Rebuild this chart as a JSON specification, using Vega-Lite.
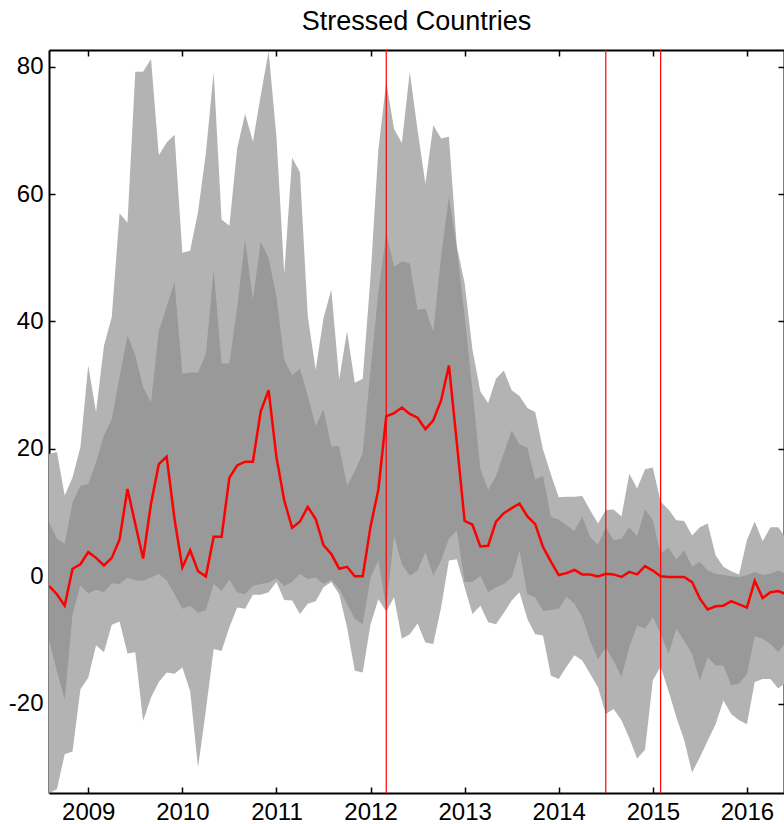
{
  "$schema": "https://vega.github.io/schema/vega-lite/v6.json",
  "width": 735,
  "height": 743,
  "autosize": {"type": "none"},
  "padding": {"left": 49, "top": 50, "right": 0, "bottom": 31},
  "background": "white",
  "title": {"text": "Stressed Countries", "font": "Liberation Sans", "fontSize": 27, "fontWeight": "normal", "color": "black", "offset": 13, "anchor": "middle"},
  "config": {
    "view": {"stroke": null},
    "axis": {"domainColor": "black", "domainWidth": 2, "tickColor": "black", "tickWidth": 1.5, "tickSize": -6, "labelFont": "Liberation Sans", "labelFontSize": 24, "labelColor": "black", "grid": false, "title": null, "labelFlush": false, "labelOverlap": false, "labelExpr": "'' + datum.value"}
  },
  "resolve": {"axis": {"x": "independent", "y": "independent"}},
  "datasets": {
    "bands": [
      {"t": 2008.583, "lo90": -34, "lo75": -10, "med": -1.5, "hi75": 8.5, "hi90": 19.2},
      {"t": 2008.667, "lo90": -33.4, "lo75": -14.8, "med": -2.8, "hi75": 5.9, "hi90": 19.5},
      {"t": 2008.75, "lo90": -27.9, "lo75": -19.4, "med": -4.6, "hi75": 5.1, "hi90": 12.7},
      {"t": 2008.833, "lo90": -27.5, "lo75": -6, "med": 1.2, "hi75": 11.6, "hi90": 15.5},
      {"t": 2008.917, "lo90": -17.7, "lo75": -1.4, "med": 1.9, "hi75": 14.2, "hi90": 20.3},
      {"t": 2009.0, "lo90": -15.9, "lo75": -2.7, "med": 3.8, "hi75": 14.5, "hi90": 33.1},
      {"t": 2009.083, "lo90": -10.8, "lo75": -2.1, "med": 2.9, "hi75": 17.9, "hi90": 25.8},
      {"t": 2009.167, "lo90": -11.9, "lo75": -2.5, "med": 1.7, "hi75": 22.1, "hi90": 36.2},
      {"t": 2009.25, "lo90": -7.6, "lo75": -1.1, "med": 2.9, "hi75": 24.7, "hi90": 40.7},
      {"t": 2009.333, "lo90": -7.1, "lo75": -1.2, "med": 5.8, "hi75": 31.3, "hi90": 57.0},
      {"t": 2009.417, "lo90": -12.1, "lo75": -0.2, "med": 13.7, "hi75": 37.8, "hi90": 55.5},
      {"t": 2009.5, "lo90": -11.9, "lo75": -0.6, "med": 8.2, "hi75": 34.7, "hi90": 79.2},
      {"t": 2009.583, "lo90": -22.7, "lo75": -0.7, "med": 2.8, "hi75": 29.7, "hi90": 79.2},
      {"t": 2009.667, "lo90": -19.0, "lo75": -0.2, "med": 11.4, "hi75": 27.3, "hi90": 81.2},
      {"t": 2009.75, "lo90": -16.6, "lo75": 0.4, "med": 17.6, "hi75": 38.5, "hi90": 66.1},
      {"t": 2009.833, "lo90": -15.1, "lo75": -0.6, "med": 18.8, "hi75": 42.3, "hi90": 68.1},
      {"t": 2009.917, "lo90": -15.3, "lo75": -2.8, "med": 9.0, "hi75": 46.2, "hi90": 69.3},
      {"t": 2010.0, "lo90": -14.3, "lo75": -5.1, "med": 1.4, "hi75": 31.8, "hi90": 50.8},
      {"t": 2010.083, "lo90": -18.0, "lo75": -4.6, "med": 4.1, "hi75": 32.0, "hi90": 51.1},
      {"t": 2010.167, "lo90": -30.0, "lo75": -5.7, "med": 0.8, "hi75": 32.0, "hi90": 57.2},
      {"t": 2010.25, "lo90": -21.0, "lo75": -5.3, "med": 0.0, "hi75": 34.9, "hi90": 66.4},
      {"t": 2010.333, "lo90": -11.4, "lo75": -1.2, "med": 6.2, "hi75": 48.1, "hi90": 79.2},
      {"t": 2010.417, "lo90": -11.7, "lo75": -2.3, "med": 6.2, "hi75": 33.4, "hi90": 56.0},
      {"t": 2010.5, "lo90": -8.0, "lo75": -0.5, "med": 15.5, "hi75": 33.4, "hi90": 55.0},
      {"t": 2010.583, "lo90": -4.9, "lo75": -2.5, "med": 17.4, "hi75": 42.3, "hi90": 67.2},
      {"t": 2010.667, "lo90": -5.1, "lo75": -2.8, "med": 18.0, "hi75": 52.8, "hi90": 72.6},
      {"t": 2010.75, "lo90": -2.9, "lo75": -1.5, "med": 18.0, "hi75": 43.4, "hi90": 68.2},
      {"t": 2010.833, "lo90": -2.9, "lo75": -1.2, "med": 25.9, "hi75": 52.5, "hi90": 75.5},
      {"t": 2010.917, "lo90": -2.5, "lo75": -1.0, "med": 29.2, "hi75": 49.9, "hi90": 82.4},
      {"t": 2011.0, "lo90": -0.9, "lo75": -0.3, "med": 18.7, "hi75": 43.9, "hi90": 69.0},
      {"t": 2011.083, "lo90": -3.7, "lo75": -1.5, "med": 11.9, "hi75": 34.0, "hi90": 47.5},
      {"t": 2011.167, "lo90": -3.8, "lo75": -0.9, "med": 7.6, "hi75": 31.5, "hi90": 65.7},
      {"t": 2011.25, "lo90": -5.9, "lo75": 0.4, "med": 8.6, "hi75": 32.6, "hi90": 63.4},
      {"t": 2011.333, "lo90": -4.3, "lo75": -0.4, "med": 10.9, "hi75": 28.3, "hi90": 40.8},
      {"t": 2011.417, "lo90": -3.9, "lo75": -0.2, "med": 9.0, "hi75": 23.6, "hi90": 32.4},
      {"t": 2011.5, "lo90": -1.7, "lo75": -1.2, "med": 4.9, "hi75": 26.2, "hi90": 40.5},
      {"t": 2011.583, "lo90": -0.9, "lo75": -0.5, "med": 3.5, "hi75": 20.4, "hi90": 45.0},
      {"t": 2011.667, "lo90": -2.8, "lo75": -2.0, "med": 1.2, "hi75": 20.4, "hi90": 30.9},
      {"t": 2011.75, "lo90": -8.0, "lo75": -4.3, "med": 1.5, "hi75": 14.2, "hi90": 38.5},
      {"t": 2011.833, "lo90": -14.8, "lo75": -6.7, "med": 0.0, "hi75": 16.5, "hi90": 30.4},
      {"t": 2011.917, "lo90": -15.1, "lo75": -7.5, "med": 0.0, "hi75": 19.4, "hi90": 31.0},
      {"t": 2012.0, "lo90": -7.5, "lo75": -0.2, "med": 7.8, "hi75": 32.4, "hi90": 47.0},
      {"t": 2012.083, "lo90": -3.6, "lo75": 2.5, "med": 13.6, "hi75": 44.5, "hi90": 66.9},
      {"t": 2012.167, "lo90": -5.5, "lo75": -5.0, "med": 25.1, "hi75": 53.8, "hi90": 77.6},
      {"t": 2012.25, "lo90": -3.3, "lo75": 6.4, "med": 25.6, "hi75": 48.6, "hi90": 70.2},
      {"t": 2012.333, "lo90": -9.8, "lo75": 1.9, "med": 26.5, "hi75": 49.4, "hi90": 68.0},
      {"t": 2012.417, "lo90": -9.1, "lo75": 0.1, "med": 25.5, "hi75": 49.1, "hi90": 79.2},
      {"t": 2012.5, "lo90": -7.4, "lo75": 0.9, "med": 24.9, "hi75": 41.8, "hi90": 70.0},
      {"t": 2012.583, "lo90": -10.4, "lo75": 3.8, "med": 23.1, "hi75": 42.0, "hi90": 61.6},
      {"t": 2012.667, "lo90": -10.6, "lo75": 0.1, "med": 24.5, "hi75": 38.4, "hi90": 70.8},
      {"t": 2012.75, "lo90": -4.9, "lo75": 2.5, "med": 27.6, "hi75": 50.2, "hi90": 68.7},
      {"t": 2012.833, "lo90": 2.5, "lo75": 5.9, "med": 33.1, "hi75": 59.6, "hi90": 69.0},
      {"t": 2012.917, "lo90": 2.7, "lo75": 7.2, "med": 21.0, "hi75": 51.5, "hi90": 51.8},
      {"t": 2013.0, "lo90": -1.7, "lo75": -0.9, "med": 8.7, "hi75": 40.8, "hi90": 46.0},
      {"t": 2013.083, "lo90": -5.9, "lo75": -0.9, "med": 8.1, "hi75": 29.3, "hi90": 35.6},
      {"t": 2013.167, "lo90": -4.6, "lo75": 0.1, "med": 4.7, "hi75": 16.8, "hi90": 29.0},
      {"t": 2013.25, "lo90": -7.2, "lo75": -2.5, "med": 4.8, "hi75": 13.6, "hi90": 27.2},
      {"t": 2013.333, "lo90": -7.5, "lo75": -1.7, "med": 8.6, "hi75": 15.7, "hi90": 31.0},
      {"t": 2013.417, "lo90": -5.7, "lo75": -1.2, "med": 9.9, "hi75": 19.4, "hi90": 32.3},
      {"t": 2013.5, "lo90": -3.8, "lo75": -0.2, "med": 10.7, "hi75": 22.9, "hi90": 29.2},
      {"t": 2013.583, "lo90": -2.5, "lo75": 4.0, "med": 11.4, "hi75": 20.7, "hi90": 28.3},
      {"t": 2013.667, "lo90": -6.7, "lo75": -2.8, "med": 9.4, "hi75": 20.2, "hi90": 26.4},
      {"t": 2013.75, "lo90": -9.1, "lo75": -3.3, "med": 8.2, "hi75": 15.2, "hi90": 25.8},
      {"t": 2013.833, "lo90": -9.3, "lo75": -5.4, "med": 4.6, "hi75": 15.8, "hi90": 19.9},
      {"t": 2013.917, "lo90": -15.6, "lo75": -5.3, "med": 2.3, "hi75": 9.3, "hi90": 16.0},
      {"t": 2014.0, "lo90": -16.1, "lo75": -5.1, "med": 0.2, "hi75": 8.9, "hi90": 12.4},
      {"t": 2014.083, "lo90": -14.2, "lo75": -3.2, "med": 0.5, "hi75": 8.0, "hi90": 12.5},
      {"t": 2014.167, "lo90": -12.4, "lo75": -4.3, "med": 1.0, "hi75": 7.1, "hi90": 12.5},
      {"t": 2014.25, "lo90": -13.2, "lo75": -6.4, "med": 0.3, "hi75": 9.4, "hi90": 12.6},
      {"t": 2014.333, "lo90": -15.3, "lo75": -10.1, "med": 0.3, "hi75": 6.2, "hi90": 10.4},
      {"t": 2014.417, "lo90": -17.4, "lo75": -13.0, "med": 0.0, "hi75": 4.9, "hi90": 8.3},
      {"t": 2014.5, "lo90": -21.6, "lo75": -11.2, "med": 0.4, "hi75": 7.7, "hi90": 10.4},
      {"t": 2014.583, "lo90": -20.8, "lo75": -13.3, "med": 0.3, "hi75": 5.7, "hi90": 10.5},
      {"t": 2014.667, "lo90": -22.6, "lo75": -15.8, "med": -0.1, "hi75": 5.9, "hi90": 9.4},
      {"t": 2014.75, "lo90": -25.4, "lo75": -11.1, "med": 0.7, "hi75": 7.7, "hi90": 16.1},
      {"t": 2014.833, "lo90": -28.6, "lo75": -7.7, "med": 0.3, "hi75": 6.3, "hi90": 13.8},
      {"t": 2014.917, "lo90": -27.2, "lo75": -8.2, "med": 1.6, "hi75": 10.5, "hi90": 16.8},
      {"t": 2015.0, "lo90": -16.3, "lo75": -6.4, "med": 0.9, "hi75": 8.8, "hi90": 17.1},
      {"t": 2015.083, "lo90": -14.2, "lo75": -9.0, "med": 0.0, "hi75": 3.6, "hi90": 11.7},
      {"t": 2015.167, "lo90": -18.0, "lo75": -12.2, "med": -0.1, "hi75": 4.5, "hi90": 10.5},
      {"t": 2015.25, "lo90": -22.1, "lo75": -8.2, "med": -0.1, "hi75": 2.6, "hi90": 8.8},
      {"t": 2015.333, "lo90": -25.7, "lo75": -10.1, "med": -0.1, "hi75": 4.1, "hi90": 8.7},
      {"t": 2015.417, "lo90": -30.8, "lo75": -12.2, "med": -0.9, "hi75": 1.5, "hi90": 6.4},
      {"t": 2015.5, "lo90": -28.4, "lo75": -16.4, "med": -3.5, "hi75": 2.3, "hi90": 7.7},
      {"t": 2015.583, "lo90": -25.8, "lo75": -12.7, "med": -5.2, "hi75": 0.9, "hi90": 8.3},
      {"t": 2015.667, "lo90": -23.2, "lo75": -14.0, "med": -4.7, "hi75": 0.4, "hi90": 3.3},
      {"t": 2015.75, "lo90": -19.5, "lo75": -14.0, "med": -4.6, "hi75": 0.2, "hi90": 1.5},
      {"t": 2015.833, "lo90": -21.6, "lo75": -17.1, "med": -3.9, "hi75": 0.0, "hi90": 0.8},
      {"t": 2015.917, "lo90": -22.6, "lo75": -16.8, "med": -4.4, "hi75": -0.1, "hi90": 0.3},
      {"t": 2016.0, "lo90": -23.2, "lo75": -15.3, "med": -4.9, "hi75": 0.2, "hi90": 5.7},
      {"t": 2016.083, "lo90": -16.6, "lo75": -9.4, "med": -0.7, "hi75": 0.7, "hi90": 8.6},
      {"t": 2016.167, "lo90": -16.1, "lo75": -9.8, "med": -3.4, "hi75": 0.2, "hi90": 5.5},
      {"t": 2016.25, "lo90": -16.1, "lo75": -10.6, "med": -2.5, "hi75": 0.4, "hi90": 7.7},
      {"t": 2016.333, "lo90": -17.6, "lo75": -11.9, "med": -2.3, "hi75": 0.9, "hi90": 7.7},
      {"t": 2016.417, "lo90": -16.6, "lo75": -10.3, "med": -2.8, "hi75": 0.4, "hi90": 5.9}
    ],
    "events": [
      {"e": 2012.167},
      {"e": 2014.5},
      {"e": 2015.083}
    ]
  },
  "layer": [
    {
      "data": {"name": "bands"},
      "mark": {"type": "area", "color": "#b3b3b3", "clip": true},
      "encoding": {
        "x": {"field": "t", "type": "quantitative", "scale": {"domain": [2008.583, 2016.394], "nice": false, "zero": false},
              "axis": {"orient": "bottom", "values": [2009, 2010, 2011, 2012, 2013, 2014, 2015, 2016], "labelPadding": 13}},
        "y": {"field": "lo90", "type": "quantitative", "scale": {"domain": [-34, 82.6], "nice": false, "zero": false},
              "axis": {"orient": "left", "values": [-20, 0, 20, 40, 60, 80], "labelPadding": 12}},
        "y2": {"field": "hi90"}
      }
    },
    {
      "data": {"name": "bands"},
      "mark": {"type": "area", "color": "#999999", "clip": true},
      "encoding": {
        "x": {"field": "t", "type": "quantitative", "axis": {"orient": "top", "values": [2009, 2010, 2011, 2012, 2013, 2014, 2015, 2016], "labels": false}},
        "y": {"field": "lo75", "type": "quantitative", "axis": {"orient": "right", "values": [-20, 0, 20, 40, 60, 80], "labels": false}},
        "y2": {"field": "hi75"}
      }
    },
    {
      "mark": {"type": "rule", "color": "black", "strokeWidth": 2},
      "encoding": {"y": {"datum": 0, "type": "quantitative", "axis": null}}
    },
    {
      "data": {"name": "bands"},
      "mark": {"type": "line", "color": "#ff0000", "strokeWidth": 2.5, "clip": true},
      "encoding": {
        "x": {"field": "t", "type": "quantitative", "axis": null},
        "y": {"field": "med", "type": "quantitative", "axis": null}
      }
    },
    {
      "data": {"name": "events"},
      "mark": {"type": "rule", "color": "#ff0000", "strokeWidth": 1.2},
      "encoding": {
        "x": {"field": "e", "type": "quantitative", "axis": null}
      }
    }
  ]
}
